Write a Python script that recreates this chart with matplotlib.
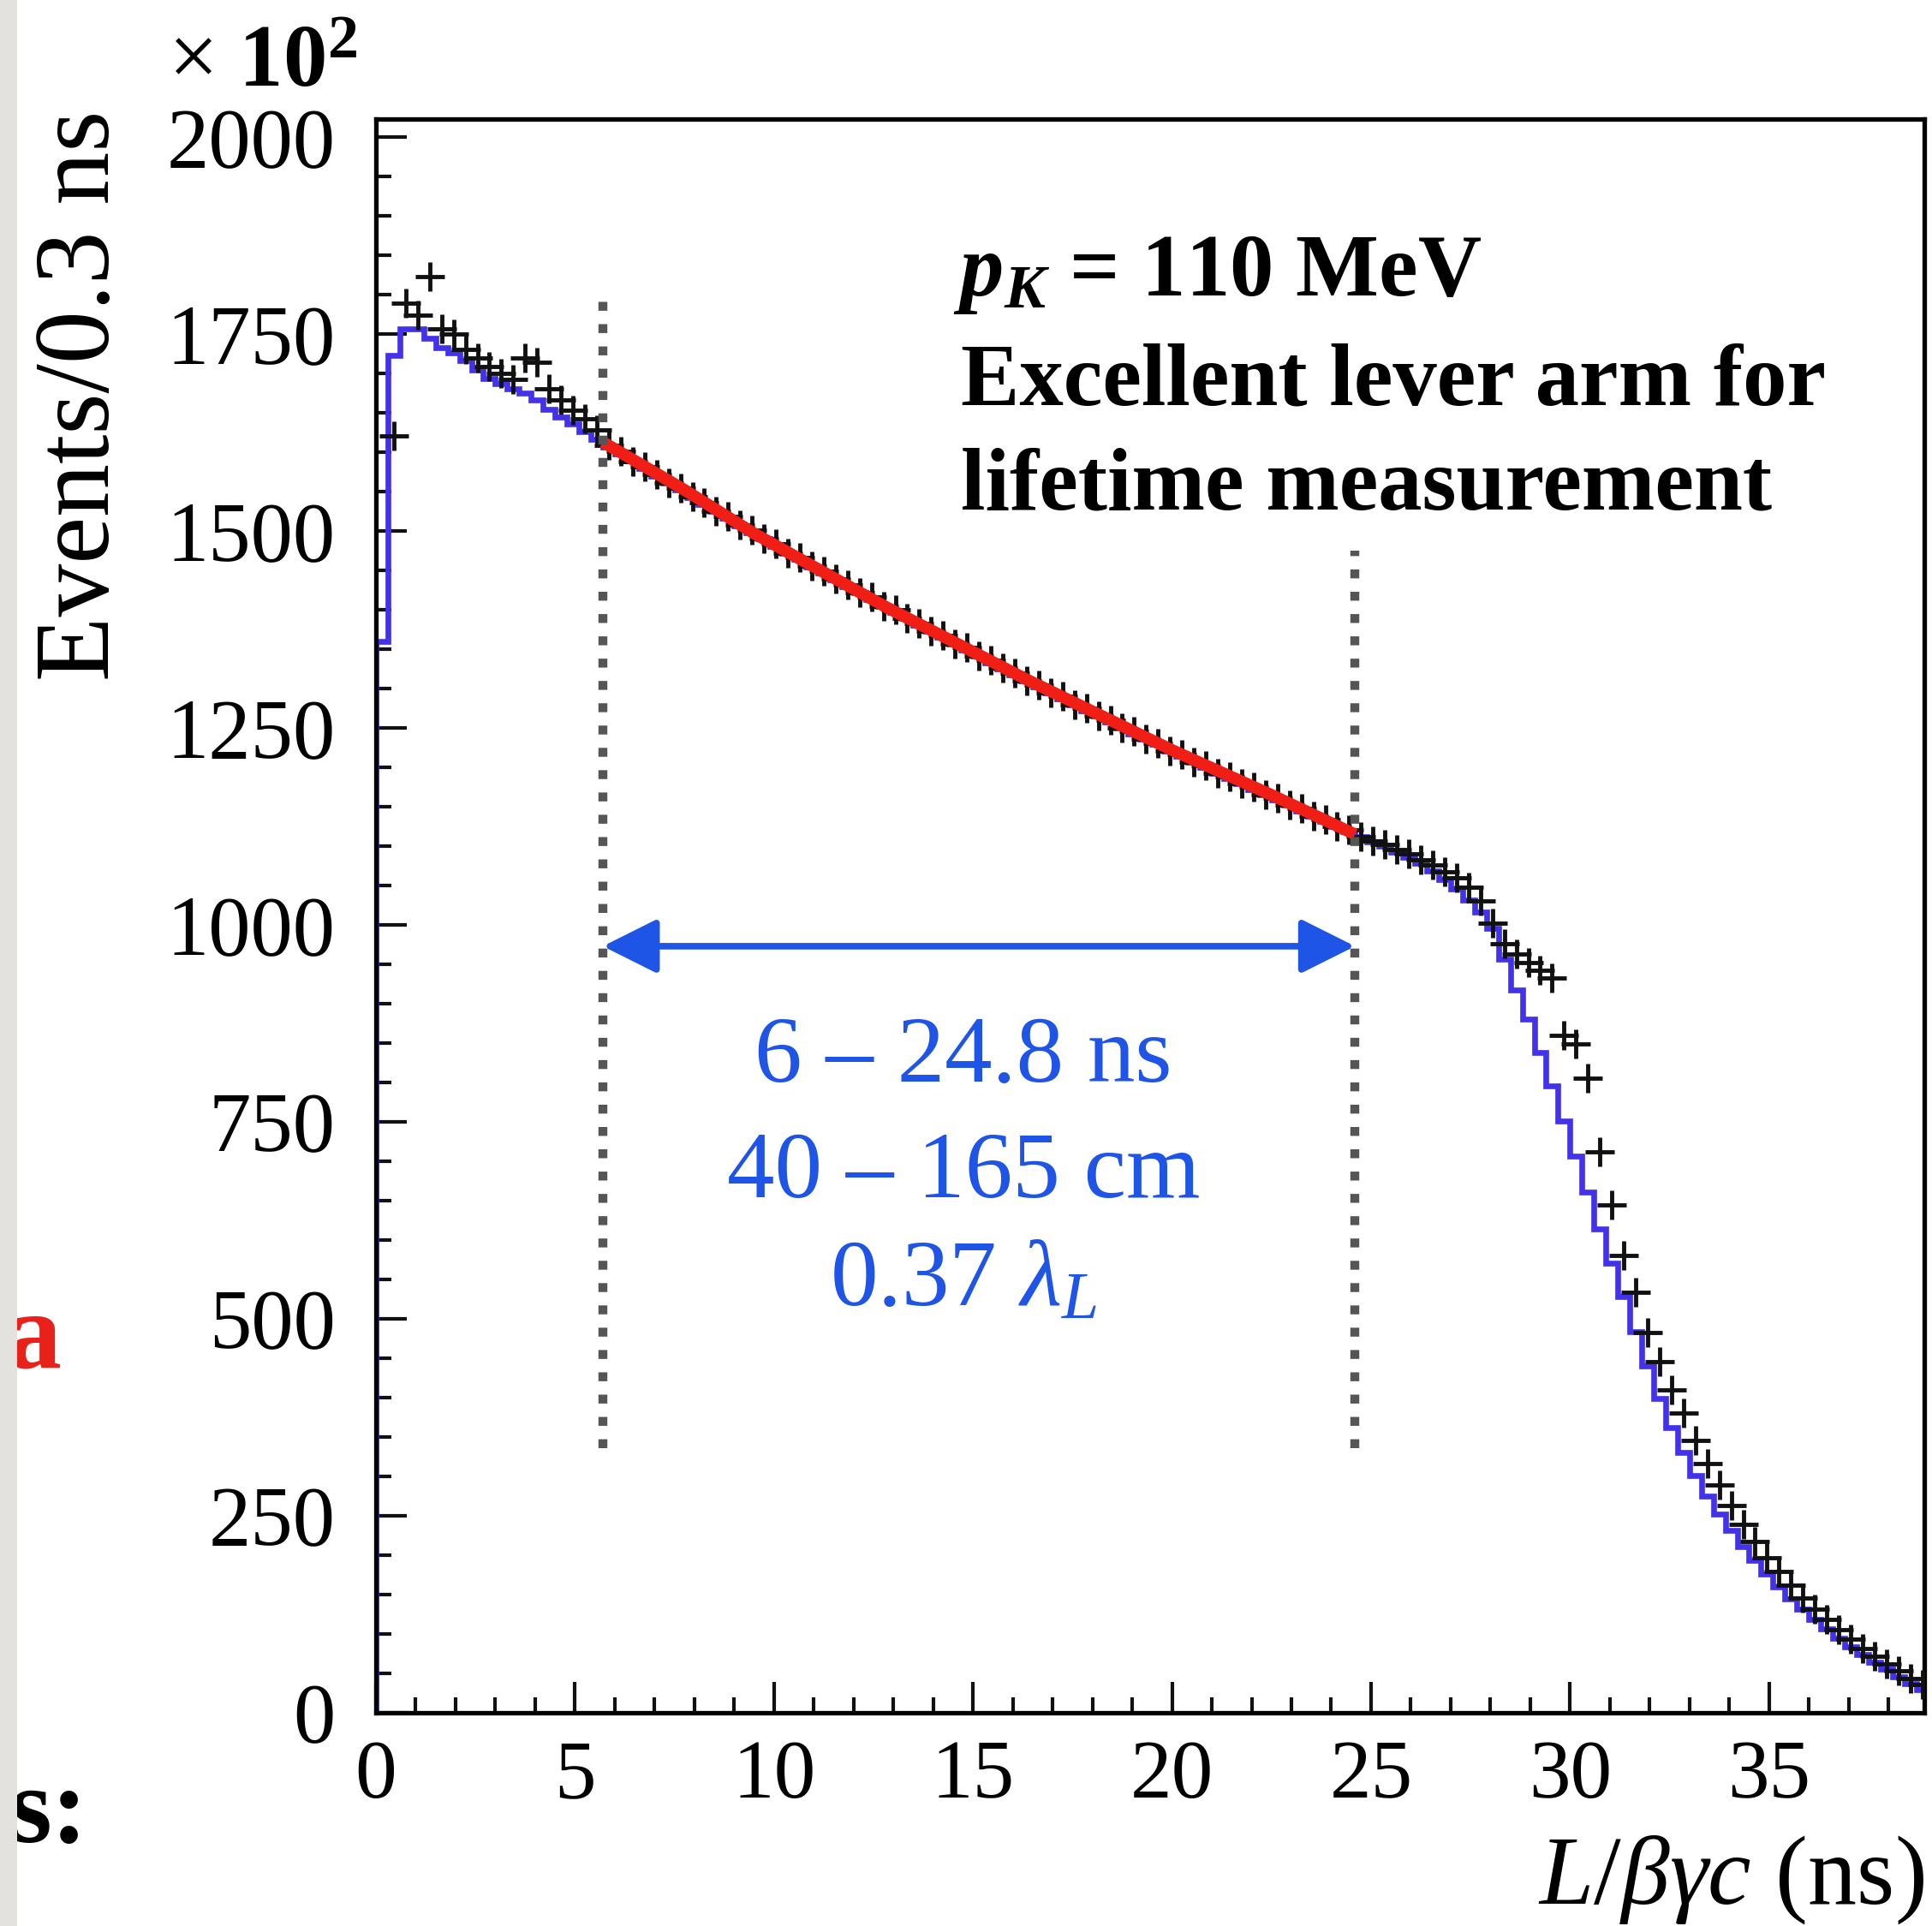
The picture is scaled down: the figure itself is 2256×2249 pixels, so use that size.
import numpy as np
import matplotlib
matplotlib.use('Agg')
import matplotlib.pyplot as plt
from matplotlib.ticker import MultipleLocator
from matplotlib.patches import Rectangle

plt.rcParams['font.family'] = ['Liberation Serif', 'DejaVu Serif']
plt.rcParams['mathtext.fontset'] = 'custom'
plt.rcParams['mathtext.rm'] = 'Liberation Serif'
plt.rcParams['mathtext.it'] = 'Liberation Serif:italic'
plt.rcParams['mathtext.bf'] = 'Liberation Serif:bold'
plt.rcParams['mathtext.bfit'] = 'Liberation Serif:italic:bold'

# histogram, 0.3 ns bins starting at 0 (counts in units of 10^2)
bin_width = 0.3

# MC (blue histogram)
mc_counts = [
    1360, 1723, 1757, 1757, 1745, 1733, 1726, 1716, 1704, 1694,
    1687, 1681, 1675, 1666, 1655, 1645, 1636, 1626, 1616,
    1607, 1598, 1589, 1580, 1570, 1561, 1552, 1543, 1534, 1525,
    1516, 1507, 1498, 1490, 1481, 1472, 1464, 1455, 1447, 1438,
    1430, 1422, 1413, 1405, 1397, 1389, 1381, 1373, 1365, 1357,
    1349, 1341, 1333, 1325, 1318, 1310, 1302, 1295, 1287, 1280,
    1272, 1265, 1258, 1250, 1243, 1236, 1229, 1221, 1214, 1207,
    1200, 1193, 1186, 1179, 1172, 1165, 1159, 1152, 1145, 1138,
    1132, 1125, 1119,
    1112, 1106, 1100, 1093, 1086, 1078, 1069, 1058, 1046, 1032,
    1016, 996, 957, 918, 880, 838, 796, 751, 707, 661,
    614, 571, 528, 484, 440, 399, 362, 330, 301, 275,
    252, 231, 211, 193, 176, 160, 145, 131, 118, 106,
    95, 84, 74, 64, 55, 46, 37, 29,
]

# data points (black crosses), one per bin
data_counts = [
    np.nan, 1621, 1789, 1774, 1823, 1757, 1750, 1731, 1720, 1709,
    1700, 1693, 1720, 1714, 1681, 1666, 1653, 1642, 1628,
    1609, 1601, 1588, 1582, 1572, 1561, 1555, 1544, 1536, 1525,
    1519, 1508, 1501, 1490, 1484, 1472, 1466, 1456, 1449, 1439,
    1432, 1422, 1416, 1405, 1400, 1389, 1383, 1373, 1367, 1357,
    1352, 1341, 1336, 1326, 1320, 1310, 1305, 1295, 1290, 1280,
    1275, 1265, 1260, 1250, 1246, 1236, 1231, 1221, 1216, 1207,
    1202, 1193, 1188, 1179, 1175, 1165, 1161, 1152, 1148, 1138,
    1134, 1125, 1121,
    1112, 1107, 1102, 1096, 1090, 1083, 1076, 1068, 1060, 1048,
    1031, 1002, 976, 963, 952, 943, 933, 860, 849, 805,
    712, 645, 581, 534, 483, 446, 410, 380, 346, 316,
    289, 263, 239, 217, 197, 179, 162, 146, 131, 118,
    105, 93, 82, 72, 62, 53, 44, 36,
]

# exponential fit (red)
fit_t = [5.7, 7.76, 9.5, 12.8, 16.37, 20.0, 22.5, 24.6]
fit_y = [1613, 1552, 1497, 1404, 1311, 1222, 1165, 1115]
fit_range = [5.7, 24.6]
marker_tops = [1791, 1475]

x_ticks = [0, 5, 10, 15, 20, 25, 30, 35]
y_ticks = [0, 250, 500, 750, 1000, 1250, 1500, 1750, 2000]

W, H = 2256, 2249
fig = plt.figure(figsize=(W / 100, H / 100), dpi=100)


def fx(px):
    return px / W


def fy(py):
    return 1 - py / H


ax = fig.add_axes([fx(439), fy(2000), fx(2247) - fx(439), fy(139) - fy(2000)])

edges = bin_width * np.arange(len(mc_counts) + 1)
centers = edges[:-1] + bin_width / 2

ax.stairs(mc_counts, edges, color='#4233ea', lw=4.8, zorder=2)
ax.plot(centers, data_counts, '+', color='#111111', ms=24, mew=3.5, zorder=3)
ax.plot(fit_t, fit_y, color='#f01e14', lw=10, solid_capstyle='butt', zorder=4)

# dotted markers of the fit range
for t, top in zip(fit_range, marker_tops):
    ax.plot([t, t], [336, top], ls=(0, (1, 1.5)), lw=7.5, color='#555555',
            zorder=5)

ax.annotate('', xy=(fit_range[1], 973), xytext=(fit_range[0], 973),
            arrowprops=dict(arrowstyle='<|-|>,head_length=1.5,head_width=0.75',
                            color='#1f55e6', lw=5.5, shrinkA=0, shrinkB=0,
                            mutation_scale=26),
            zorder=6)

ax.set_xlim(0, 38.9)
ax.set_ylim(0, 2023)
ax.set_xticks(x_ticks)
ax.set_yticks(y_ticks)
ax.xaxis.set_minor_locator(MultipleLocator(1))
ax.yaxis.set_minor_locator(MultipleLocator(50))
ax.tick_params(which='both', direction='in', top=False, right=False,
               width=3, color='#111111')
ax.tick_params(which='major', length=26)
ax.tick_params(which='minor', length=13)
ax.tick_params(axis='x', labelsize=70, pad=23)
ax.tick_params(axis='y', labelsize=71, pad=34)
for s in ax.spines.values():
    s.set_linewidth(3.8)

# axis titles
fig.text(fx(97), fy(129), 'Events/0.3 ns', rotation=90, ha='center',
         va='top', fontsize=89)
fig.text(fx(417), fy(101), r'$\times\ \mathbf{10}^{\mathbf{2}}$',
         ha='right', va='baseline', fontsize=74)
fig.text(fx(2247), fy(2223), r'$L/\beta\gamma c$ (ns)', ha='right',
         va='baseline', fontsize=82)

# annotations
fig.text(fx(1113), fy(345), r'$\mathbfit{p}_{\mathbfit{K}}$ = 110 MeV',
         fontweight='bold', fontsize=74, va='baseline')
fig.text(fx(1122), fy(472), 'Excellent lever arm for', fontweight='bold',
         fontsize=74, va='baseline')
fig.text(fx(1122), fy(594), 'lifetime measurement', fontweight='bold',
         fontsize=74, va='baseline')

blue = '#1f55e6'
fig.text(fx(1125), fy(1263), '6 \u2013 24.8 ns', color=blue, fontsize=80,
         ha='center', va='baseline')
fig.text(fx(1125), fy(1398), '40 \u2013 165 cm', color=blue, fontsize=80,
         ha='center', va='baseline')
fig.text(fx(1125), fy(1525), r'0.37 $\lambda_L$', color=blue, fontsize=80,
         ha='center', va='baseline')

# bits of the surrounding slide
fig.text(fx(72), fy(1597), 'a', color='#e8211a', fontweight='bold',
         fontsize=92, ha='right', va='baseline')
fig.text(fx(102), fy(2151), 's:', fontweight='bold', fontsize=92,
         ha='right', va='baseline')
fig.add_artist(Rectangle((0, 0), fx(20), 1, transform=fig.transFigure,
                         fc='#e4e2df', ec='none', zorder=10))

fig.savefig('out.png', dpi=100)
